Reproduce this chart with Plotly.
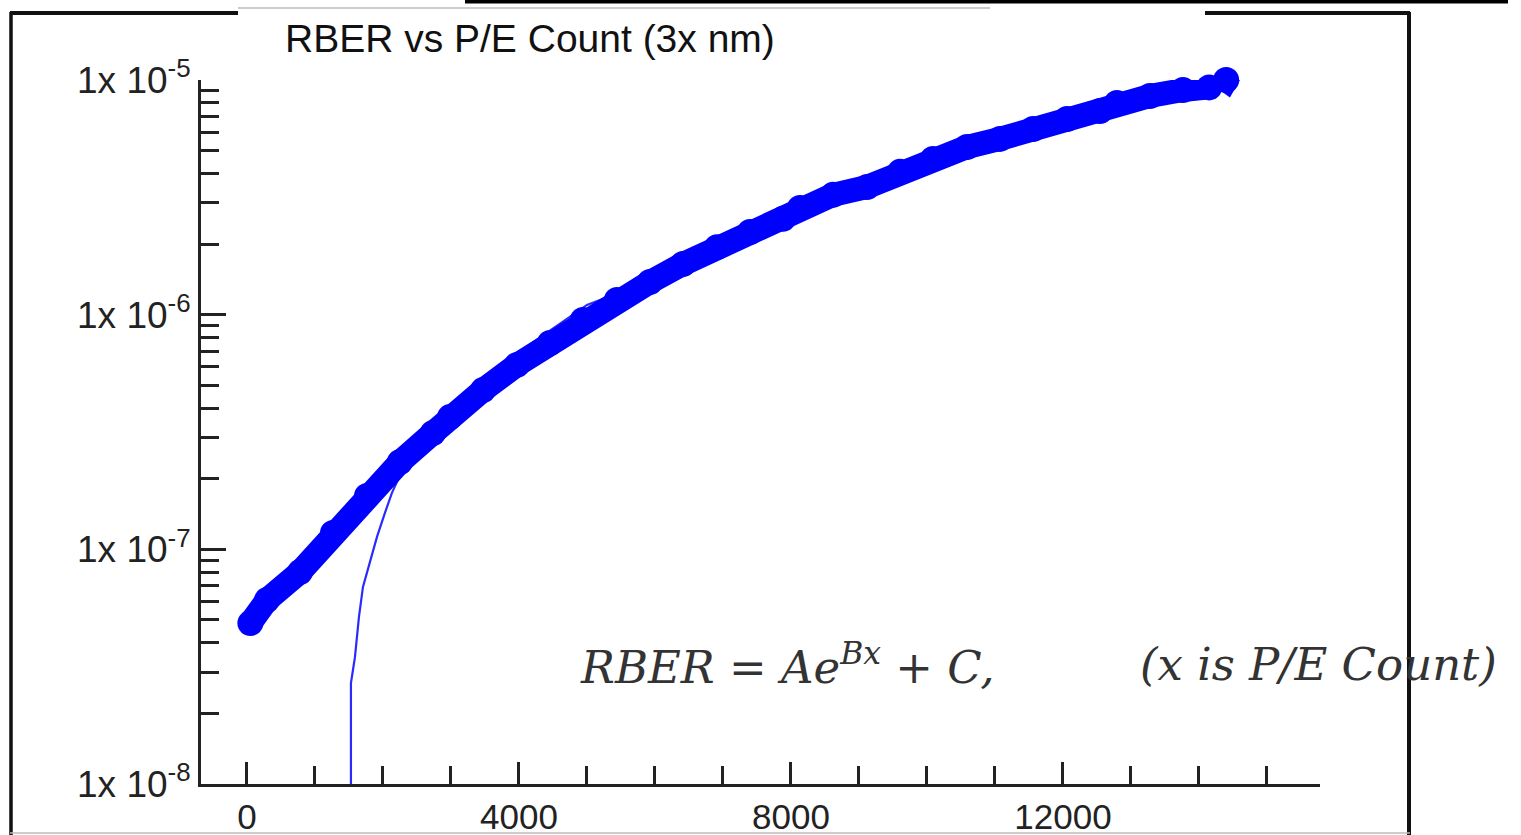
import plotly.graph_objects as go

# ---------------- data ----------------
pe_count = [50, 294, 779, 1265, 1765, 2250, 2735, 2985, 3471, 3971, 4456, 4941,
            5441, 5926, 6412, 6912, 7397, 7882, 8132, 8618, 9118, 9603, 10088,
            10588, 11074, 11559, 12059, 12544, 12794, 13279, 13765, 14150,
            14300, 14400, 14450, 14520]
rber = [4.85e-8, 6.08e-8, 8.0e-8, 1.175e-7, 1.687e-7, 2.355e-7, 3.13e-7, 3.66e-7,
        4.77e-7, 6.11e-7, 7.57e-7, 9.49e-7, 1.155e-6, 1.377e-6, 1.644e-6, 1.94e-6,
        2.25e-6, 2.56e-6, 2.85e-6, 3.24e-6, 3.50e-6, 4.06e-6, 4.61e-6, 5.18e-6,
        5.61e-6, 6.18e-6, 6.82e-6, 7.38e-6, 7.98e-6, 8.55e-6, 9.06e-6, 9.3e-6,
        1.05e-5, 1.0e-5, 1.06e-5, 1.02e-5]

fit_x = [1529, 1529, 1588, 1647, 1706, 1809, 1912, 2029, 2132, 2206, 2500, 3000,
         3500, 4000, 4500, 5000, 5500, 6000, 7000, 8000, 9000, 10000, 11000,
         12000, 13000, 14000, 14400]
fit_y = [5e-9, 2.69e-8, 3.47e-8, 5.15e-8, 6.92e-8, 8.75e-8, 1.13e-7, 1.43e-7,
         1.74e-7, 1.94e-7, 2.92e-7, 4.12e-7, 5.37e-7, 6.93e-7, 8.77e-7, 1.10e-6,
         1.25e-6, 1.43e-6, 2.0e-6, 2.74e-6, 3.47e-6, 4.48e-6, 5.55e-6, 6.76e-6,
         8.22e-6, 9.42e-6, 1.0e-5]

x_tickvals = [0, 4000, 8000, 12000]
x_ticktext = ["0", "4000", "8000", "12000"]
y_tickvals = [1e-8, 1e-7, 1e-6, 1e-5]
y_ticktext = ["1x 10<sup>-8</sup>", "1x 10<sup>-7</sup>",
              "1x 10<sup>-6</sup>", "1x 10<sup>-5</sup>"]
y_minor_vals = [m * 10 ** e for e in (-8, -7, -6) for m in range(2, 10)]

title_text = "RBER vs P/E Count (3x nm)"
formula_text = "<i>RBER = Ae<sup>Bx</sup> + C,</i>"
formula_note = "<i>(x is P/E Count)</i>"

# ---------------- layout geometry ----------------
W, H = 1521, 835
L, R, T, B = 201, 201, 80, 51
PW, PH = W - L - R, H - T - B


def px(xp):
    return (xp - L) / PW


def py(yp):
    return (H - B - yp) / PH


AX = "#222222"
BLUE = "#0000ff"

fig = go.Figure()

fig.add_trace(go.Scatter(
    x=fit_x, y=fit_y, mode="lines",
    line=dict(color="#2a2aff", width=2.2),
    showlegend=False, hoverinfo="skip"))

fig.add_trace(go.Scatter(
    x=pe_count, y=rber, mode="lines+markers",
    line=dict(color=BLUE, width=24),
    marker=dict(color=BLUE, size=26, line=dict(width=0)),
    cliponaxis=False, showlegend=False, hoverinfo="skip"))

fig.update_xaxes(
    range=[-676, 15780], showgrid=False, zeroline=False, automargin=False,
    showline=True, linecolor=AX, linewidth=3,
    tickmode="array", tickvals=x_tickvals, ticktext=x_ticktext,
    ticks="inside", ticklen=22, tickwidth=2.5, tickcolor=AX,
    tickfont=dict(family="Liberation Sans, Arial", size=35, color=AX),
    minor=dict(ticks="inside", dtick=1000, tick0=0, ticklen=18,
               tickwidth=2.5, tickcolor=AX, showgrid=False),
)

fig.update_yaxes(
    type="log", range=[-8, -5], showgrid=False, zeroline=False, automargin=False,
    showline=True, linecolor=AX, linewidth=3,
    tickmode="array", tickvals=y_tickvals, ticktext=y_ticktext,
    ticks="inside", ticklen=25, tickwidth=2.5, tickcolor=AX,
    tickfont=dict(family="Liberation Sans, Arial", size=37, color=AX),
    minor=dict(ticks="inside", tickmode="array", tickvals=y_minor_vals,
               ticklen=18, tickwidth=2.5, tickcolor=AX, showgrid=False),
)

annotations = [
    dict(text=title_text, x=px(283), y=py(39), xref="paper", yref="paper",
         xanchor="left", yanchor="middle", showarrow=False,
         font=dict(family="Liberation Sans, Arial", size=39, color="#111111")),
    dict(text=formula_text, x=px(578), y=py(664), xref="paper", yref="paper",
         xanchor="left", yanchor="middle", showarrow=False,
         font=dict(family="DejaVu Serif", size=45, color="#333333")),
    dict(text=formula_note, x=px(1138), y=py(664), xref="paper", yref="paper",
         xanchor="left", yanchor="middle", showarrow=False,
         font=dict(family="DejaVu Serif", size=45, color="#333333")),
]

shapes = [
    # screenshot frame pieces
    dict(type="line", xref="paper", yref="paper", x0=px(11), x1=px(11), y0=py(12), y1=py(835),
         line=dict(color="#111111", width=3.5)),
    dict(type="line", xref="paper", yref="paper", x0=px(10), x1=px(238), y0=py(13), y1=py(13),
         line=dict(color="#111111", width=4)),
    dict(type="line", xref="paper", yref="paper", x0=px(238), x1=px(990), y0=py(8), y1=py(8),
         line=dict(color="#bbbbbb", width=1.5)),
    dict(type="line", xref="paper", yref="paper", x0=px(465), x1=px(1508), y0=py(1.5), y1=py(1.5),
         line=dict(color="#000000", width=4)),
    dict(type="line", xref="paper", yref="paper", x0=px(1205), x1=px(1410), y0=py(13), y1=py(13),
         line=dict(color="#111111", width=4)),
    dict(type="line", xref="paper", yref="paper", x0=px(1409), x1=px(1409), y0=py(12), y1=py(835),
         line=dict(color="#111111", width=4)),
    dict(type="line", xref="paper", yref="paper", x0=px(10), x1=px(1410), y0=py(833), y1=py(833),
         line=dict(color="#bbbbbb", width=1.5)),
]

fig.update_layout(
    width=W, height=H,
    margin=dict(l=L, r=R, t=T, b=B, pad=0, autoexpand=False),
    paper_bgcolor="white", plot_bgcolor="white",
    annotations=annotations, shapes=shapes,
    showlegend=False,
)

fig.write_html("out.html", config={"displayModeBar": False},
               post_script="document.body.style.margin='0';")
